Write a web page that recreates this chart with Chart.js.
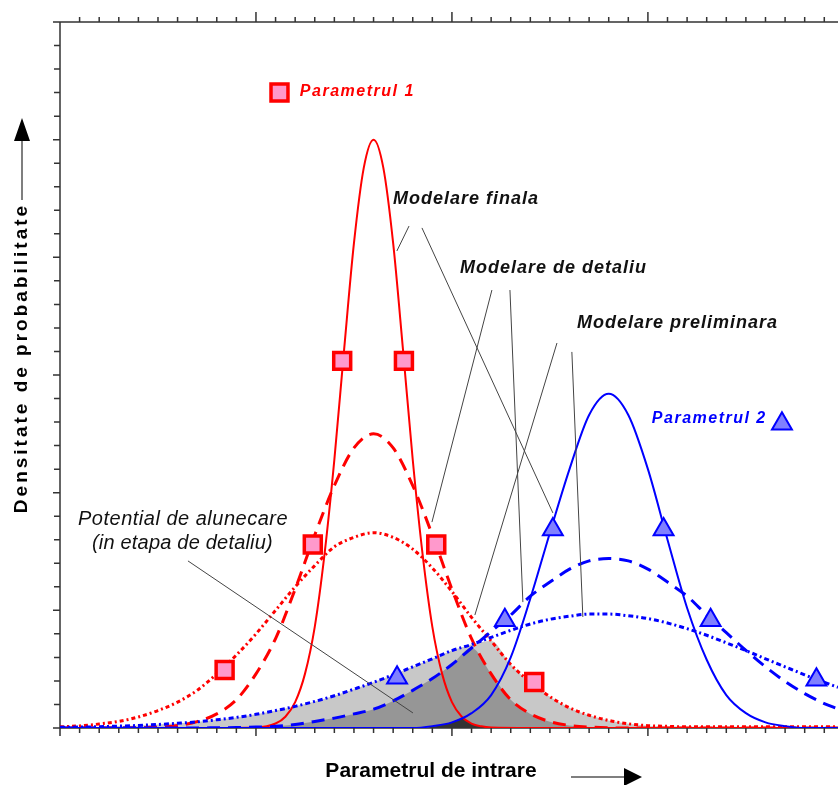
<!DOCTYPE html>
<html>
<head>
<meta charset="utf-8">
<script src="https://cdn.jsdelivr.net/npm/chart.js@4.4.0/dist/chart.umd.min.js"></script>
<style>
	body { margin: 0; background: #fff; }
</style>
</head>
<body>
<canvas id="myChart" width="838" height="785"></canvas>
<script>
"use strict";

// x in minor-tick units (0 .. 39.7), y in minor-tick units (0 .. 30)
const xGrid = [0, 1, 2, 3, 4, 5, 6, 7, 8, 9, 10, 11, 12, 13, 14, 15, 16, 17, 18, 19,
	20, 21, 22, 23, 24, 25, 26, 27, 28, 29, 30, 31, 32, 33, 34, 35, 36, 37, 38, 39, 39.7];

// Parametrul 1
const redPrelim = [0.05, 0.09, 0.17, 0.28, 0.47, 0.74, 1.1, 1.6, 2.3, 3.1, 4.0, 5.0, 6.0, 6.9, 7.7, 8.1, 8.3, 8.1, 7.6, 6.8,
	5.8, 4.7, 3.7, 2.7, 1.95, 1.33, 0.86, 0.54, 0.32, 0.18, 0.1, 0.07, 0.05, 0.05, 0.05, 0.05, 0.05, 0.05, 0.05, 0.05, 0.05];
const redDetail = [0, 0, 0, 0, 0.01, 0.04, 0.11, 0.27, 0.6, 1.2, 2.3, 3.8, 5.9, 8.2, 10.3, 11.9, 12.5, 11.9, 10.3, 8.2,
	5.9, 3.8, 2.3, 1.2, 0.6, 0.27, 0.11, 0.04, 0.01, 0, 0, 0, 0, 0, 0, 0, 0, 0, 0, 0, 0];
// the final curve is narrow, so it gets its own finer x list
const redFinalX = [0, 8, 10, 11, 11.5, 12, 12.5, 13, 13.5, 14, 14.5, 15, 15.5, 16, 16.5, 17, 17.5, 18,
	18.5, 19, 19.5, 20, 20.5, 21, 21.5, 22, 24, 39.7];
const redFinal = [0, 0, 0.02, 0.19, 0.48, 1.1, 2.3, 4.3, 7.4, 11.4, 16.1, 20.6, 23.8, 25, 23.8, 20.6, 16.1, 11.4,
	7.4, 4.3, 2.3, 1.1, 0.48, 0.19, 0.07, 0.02, 0, 0];

// Parametrul 2
const bluePrelim = [0.03, 0.04, 0.055, 0.08, 0.11, 0.15, 0.2, 0.26, 0.35, 0.45, 0.58, 0.74, 0.92, 1.13, 1.37, 1.65, 1.94, 2.26, 2.6, 2.94,
	3.29, 3.55, 3.85, 4.15, 4.42, 4.62, 4.75, 4.84, 4.84, 4.77, 4.65, 4.46, 4.22, 3.94, 3.62, 3.29, 2.94, 2.6, 2.26, 1.94, 1.73];
const blueDetail = [0, 0, 0, 0, 0, 0, 0, 0, 0.01, 0.02, 0.04, 0.07, 0.15, 0.28, 0.42, 0.6, 0.8, 1.15, 1.6, 2.1,
	2.7, 3.4, 4.1, 4.8, 5.6, 6.2, 6.75, 7.1, 7.2, 7.1, 6.75, 6.2, 5.6, 4.8, 4.05, 3.3, 2.6, 1.98, 1.46, 1.04, 0.81];
const blueFinal = [0, 0, 0, 0, 0, 0, 0, 0, 0, 0, 0, 0, 0, 0, 0, 0, 0, 0, 0, 0.08,
	0.24, 0.63, 1.4, 3.0, 5.5, 8.3, 11.0, 13.3, 14.2, 13.3, 11.0, 8.0, 5.1, 2.9, 1.4, 0.63, 0.24, 0.08, 0, 0, 0];

// small overlap of the two final curves
const finalOverlapX = [18.5, 19, 19.5, 20, 20.5, 21, 21.5, 22];
const finalOverlap = [0, 0.05, 0.14, 0.24, 0.4, 0.19, 0.07, 0];

// markers (first one of each is the legend marker)
const redMarkX = [11.2, 14.4, 17.55, 12.9, 19.2, 8.4, 24.2];
const redMarkY = [27.0, 15.6, 15.6, 7.8, 7.8, 2.46, 1.95];
const blueMarkX = [36.84, 25.15, 30.8, 22.7, 33.2, 17.2, 38.6];
const blueMarkY = [12.93, 8.43, 8.43, 4.58, 4.58, 2.13, 2.05];

const RED = "#ff0000";
const BLUE = "#0000ff";
const BOLD_IT = "italic bold 18px 'Liberation Sans', Arial, sans-serif";
const PARAM_FONT = "italic bold 16px 'Liberation Sans', Arial, sans-serif";
const NOTE_FONT = "italic 20px 'Liberation Sans', Arial, sans-serif";

const notes = [
	{ text: "Parametrul 1", x: 12.24, y: 27.03, color: RED, font: PARAM_FONT, spacing: "1.5px" },
	{ text: "Parametrul 2", x: 30.2, y: 13.13, color: BLUE, font: PARAM_FONT, spacing: "1.5px" },
	{ text: "Modelare finala", x: 16.99, y: 22.48, color: "#111", font: BOLD_IT, spacing: "1px" },
	{ text: "Modelare de detaliu", x: 20.41, y: 19.55, color: "#111", font: BOLD_IT, spacing: "1px" },
	{ text: "Modelare preliminara", x: 26.38, y: 17.21, color: "#111", font: BOLD_IT, spacing: "1px" },
	{ text: "Potential de alunecare", x: 0.92, y: 8.88, color: "#111", font: NOTE_FONT, spacing: "0.5px" },
	{ text: "(in etapa de detaliu)", x: 1.63, y: 7.86, color: "#111", font: NOTE_FONT, spacing: "0.2px" },
];

const leaders = [
	[17.81, 21.33, 17.19, 20.27],
	[18.47, 21.25, 25.15, 9.14],
	[22.04, 18.61, 18.98, 8.75],
	[22.96, 18.61, 23.62, 5.35],
	[25.36, 16.36, 21.17, 4.8],
	[26.12, 15.98, 26.68, 4.72],
	[6.53, 7.1, 18.01, 0.64],
];

function pts(xs, ys) {
	return xs.map(function (x, i) {
		return { x: x, y: ys[i] };
	});
}

function overlap(a, b) {
	return a.map(function (v, i) {
		return Math.min(v, b[i]);
	});
}

function curve(xs, ys, color, width, dash) {
	return {
		data: pts(xs, ys),
		borderColor: color,
		borderWidth: width,
		borderDash: dash,
		pointRadius: 0,
		fill: false,
		cubicInterpolationMode: "monotone",
		order: 5,
	};
}

function area(xs, ys, color, order) {
	return {
		data: pts(xs, ys),
		backgroundColor: color,
		borderWidth: 0,
		pointRadius: 0,
		fill: "origin",
		cubicInterpolationMode: "monotone",
		order: order,
	};
}

const decorations = {
	id: "decorations",
	beforeDatasetsDraw(chart) {
		const { ctx, scales } = chart;
		const x = scales.x;
		const y = scales.y;
		const left = x.getPixelForValue(0);
		const top = y.getPixelForValue(30);
		const bottom = y.getPixelForValue(0);

		ctx.save();
		ctx.strokeStyle = "#333";
		ctx.lineWidth = 1.5;
		ctx.beginPath();
		ctx.moveTo(left, top);
		ctx.lineTo(left, bottom);
		ctx.moveTo(left - 7, top);
		ctx.lineTo(chart.width, top);
		ctx.moveTo(left - 7, bottom);
		ctx.lineTo(chart.width, bottom);
		for (let v = 0; v <= 39; v++) {
			const px = x.getPixelForValue(v);
			const major = v % 10 === 0;
			if (v > 0) {
				ctx.moveTo(px, top);
				ctx.lineTo(px, top - (major ? 10 : 5));
			}
			ctx.moveTo(px, bottom);
			ctx.lineTo(px, bottom + (major ? 8 : 5));
		}
		for (let v = 1; v < 30; v++) {
			const py = y.getPixelForValue(v);
			ctx.moveTo(left, py);
			ctx.lineTo(left - (v % 5 === 0 ? 7 : 6), py);
		}
		ctx.stroke();
		ctx.restore();
	},
	afterDatasetsDraw(chart) {
		const { ctx, scales } = chart;
		const x = scales.x;
		const y = scales.y;

		ctx.save();
		// leader lines
		ctx.strokeStyle = "#444";
		ctx.lineWidth = 1;
		ctx.beginPath();
		leaders.forEach(function (l) {
			ctx.moveTo(x.getPixelForValue(l[0]), y.getPixelForValue(l[1]));
			ctx.lineTo(x.getPixelForValue(l[2]), y.getPixelForValue(l[3]));
		});
		ctx.stroke();

		// labels
		ctx.textBaseline = "middle";
		ctx.textAlign = "left";
		notes.forEach(function (n) {
			ctx.font = n.font;
			ctx.letterSpacing = n.spacing;
			ctx.fillStyle = n.color;
			ctx.fillText(n.text, x.getPixelForValue(n.x), y.getPixelForValue(n.y));
		});

		// axis titles
		ctx.fillStyle = "#000";
		ctx.textAlign = "center";
		ctx.font = "bold 21px 'Liberation Sans', Arial, sans-serif";
		ctx.letterSpacing = "0px";
		ctx.fillText("Parametrul de intrare", 431, 771);

		ctx.save();
		ctx.translate(22, 358);
		ctx.rotate(-Math.PI / 2);
		ctx.font = "bold 19px 'Liberation Sans', Arial, sans-serif";
		ctx.letterSpacing = "3px";
		ctx.fillText("Densitate de probabilitate", 0, 0);
		ctx.restore();

		// arrows
		ctx.letterSpacing = "0px";
		ctx.strokeStyle = "#555";
		ctx.lineWidth = 1.5;
		ctx.beginPath();
		ctx.moveTo(22, 200);
		ctx.lineTo(22, 135);
		ctx.moveTo(571, 777);
		ctx.lineTo(628, 777);
		ctx.stroke();
		ctx.fillStyle = "#000";
		ctx.beginPath();
		ctx.moveTo(22, 118);
		ctx.lineTo(14, 141);
		ctx.lineTo(30, 141);
		ctx.closePath();
		ctx.moveTo(642, 777);
		ctx.lineTo(624, 768);
		ctx.lineTo(624, 786);
		ctx.closePath();
		ctx.fill();
		ctx.restore();
	},
};

const ctx = document.getElementById("myChart");

new Chart(ctx, {
	type: "line",
	data: {
		datasets: [
			area(xGrid, overlap(redPrelim, bluePrelim), "#c8c8c8", 12),
			area(xGrid, overlap(redDetail, blueDetail), "#969696", 11),
			area(finalOverlapX, finalOverlap, "#333333", 10),
			curve(xGrid, bluePrelim, BLUE, 3, [5, 3, 2, 3]),
			curve(xGrid, blueDetail, BLUE, 3, [13, 8]),
			curve(xGrid, blueFinal, BLUE, 2, []),
			curve(xGrid, redPrelim, RED, 3, [4, 3, 2, 3]),
			curve(xGrid, redDetail, RED, 3, [13, 8]),
			curve(redFinalX, redFinal, RED, 2, []),
			{
				data: pts(redMarkX, redMarkY),
				showLine: false,
				pointStyle: "rect",
				pointRadius: 12,
				pointBackgroundColor: "#ff99cc",
				pointBorderColor: RED,
				pointBorderWidth: 3.5,
				order: 1,
			},
			{
				data: pts(blueMarkX, blueMarkY),
				showLine: false,
				pointStyle: "triangle",
				pointRadius: 11.5,
				pointBackgroundColor: "#8080ff",
				pointBorderColor: BLUE,
				pointBorderWidth: 2,
				order: 1,
			},
		],
	},
	options: {
		responsive: false,
		animation: false,
		layout: {
			autoPadding: false,
			padding: { left: 60, top: 22, right: 0, bottom: 57 },
		},
		plugins: {
			legend: { display: false },
			tooltip: { enabled: false },
		},
		scales: {
			x: { type: "linear", min: 0, max: 39.7, display: false },
			y: { min: 0, max: 30, display: false },
		},
	},
	plugins: [decorations],
});
</script>
</body>
</html>
